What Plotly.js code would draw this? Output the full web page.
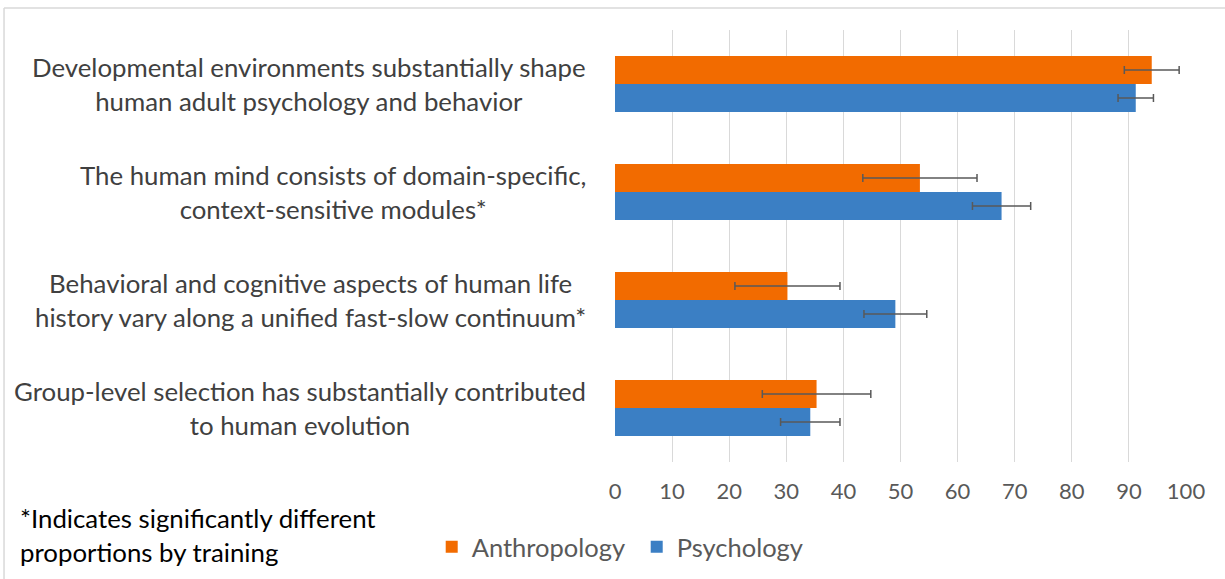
<!DOCTYPE html>
<html>
<head>
<meta charset="utf-8">
<script src="https://cdn.plot.ly/plotly-3.0.1.min.js"></script>
<style>
html,body{margin:0;padding:0;background:#fff;}
#chart{width:1225px;height:579px;}
</style>
</head>
<body>
<div id="chart"></div>
<script>
const categories = [
  "Developmental environments substantially shape<br>human adult psychology and behavior",
  "The human mind consists of domain-specific,<br>context-sensitive modules*",
  "Behavioral and cognitive aspects of human life<br>history vary along a unified fast-slow continuum*",
  "Group-level selection has substantially contributed<br>to human evolution"
];
const anthropology = [94.0, 53.4, 30.2, 35.3];
const anthropologyErr = [4.8, 10.0, 9.2, 9.5];
const psychology = [91.2, 67.7, 49.1, 34.2];
const psychologyErr = [3.1, 5.1, 5.5, 5.2];
const xTicks = [0, 10, 20, 30, 40, 50, 60, 70, 80, 90, 100];
const footnote = "*Indicates significantly different<br>proportions by training";

const FONT = "Lato, 'Open Sans', sans-serif";
const errStyle = {type:'data', visible:true, thickness:1.5, width:4, color:'#595959'};

const traces = [
  {type:'bar', orientation:'h', name:'Anthropology', y:categories, x:anthropology,
   marker:{color:'#f26b00'}, error_x:Object.assign({array:anthropologyErr}, errStyle)},
  {type:'bar', orientation:'h', name:'Psychology', y:categories, x:psychology,
   marker:{color:'#3b7fc4'}, error_x:Object.assign({array:psychologyErr}, errStyle)}
];

const annotations = categories.map(c => ({
  xref:'paper', yref:'y', x:-0.048, y:c, xanchor:'right', yanchor:'middle',
  text:c, align:'center', showarrow:false,
  font:{family:FONT, size:25.8, color:'#404040'}
}));
annotations.push({
  xref:'paper', yref:'paper', x:-1.045, y:-0.170, xanchor:'left', yanchor:'middle',
  text:footnote, align:'left', showarrow:false,
  font:{family:FONT, size:25.8, color:'#000000'}
});

const layout = {
  width:1225, height:579,
  margin:{l:615, r:39, t:30, b:117, autoexpand:false},
  paper_bgcolor:'#ffffff', plot_bgcolor:'#ffffff',
  barmode:'group', bargap:0.48, bargroupgap:0,
  showlegend:true,
  legend:{orientation:'h', x:-0.321, xanchor:'left', yref:'container', y:0.055, yanchor:'middle',
    font:{family:FONT, size:25.5, color:'#595959'}, itemwidth:30, tracegroupgap:0,
    entrywidth:160, entrywidthmode:'pixels'},
  xaxis:{range:[0,100], tickvals:xTicks, ticktext:xTicks.map(String),
    showgrid:true, gridcolor:'#d9d9d9', gridwidth:1, zeroline:false, showline:false,
    ticks:'', ticklabelstandoff:14,
    tickfont:{family:FONT, size:22, color:'#595959'}},
  yaxis:{type:'category', autorange:'reversed', showticklabels:false,
    showgrid:false, zeroline:false, showline:false, ticks:''},
  annotations:annotations,
  shapes:[
    {type:'line', xref:'paper', yref:'paper', x0:-1.07, x1:1.1, y0:1.051, y1:1.051,
     line:{color:'#d9d9d9', width:1.5}, layer:'below'},
    {type:'line', xref:'paper', yref:'paper', x0:-1.07, x1:-1.07, y0:1.051, y1:-0.3,
     line:{color:'#d9d9d9', width:1.5}, layer:'below'}
  ]
};

Plotly.newPlot('chart', traces, layout, {displayModeBar:false, staticPlot:true});
</script>
</body>
</html>
